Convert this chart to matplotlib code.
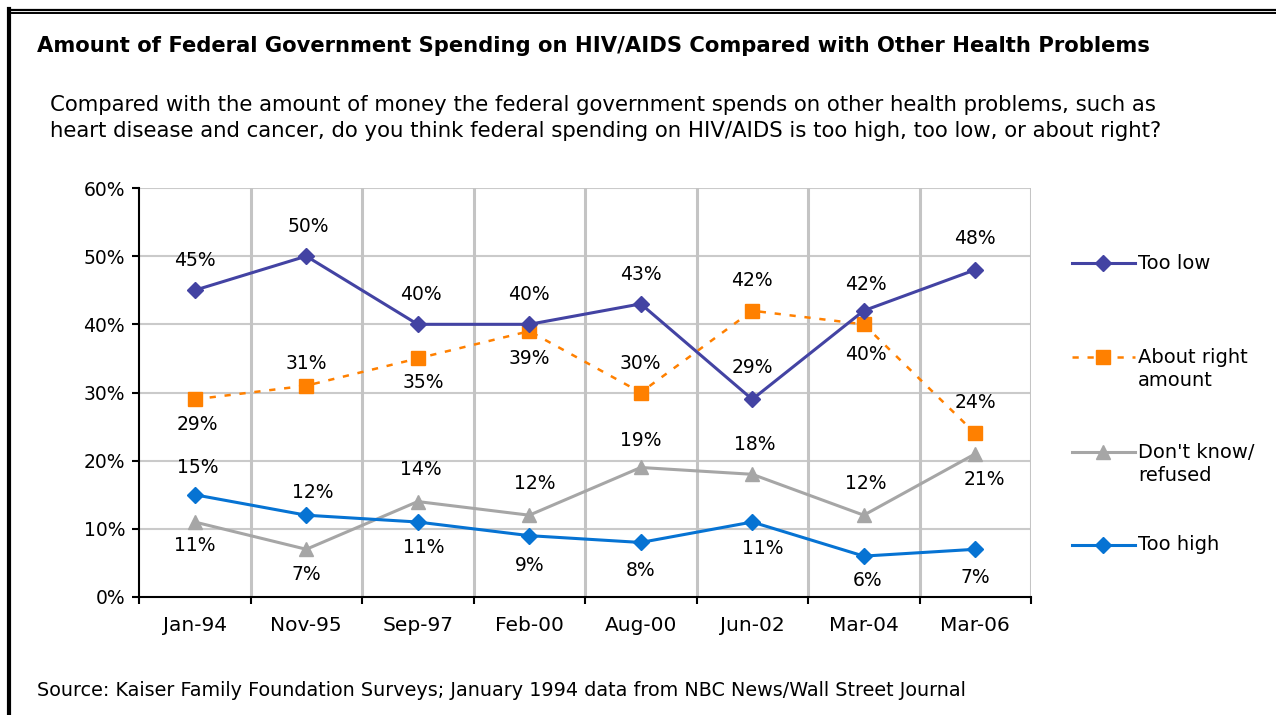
import matplotlib
matplotlib.use('Agg')
import matplotlib.pyplot as plt
from matplotlib.lines import Line2D

# ---------------- data ----------------
categories = ['Jan-94', 'Nov-95', 'Sep-97', 'Feb-00', 'Aug-00', 'Jun-02', 'Mar-04', 'Mar-06']
too_low = [45, 50, 40, 40, 43, 29, 42, 48]
about_right = [29, 31, 35, 39, 30, 42, 40, 24]
dont_know = [11, 7, 14, 12, 19, 18, 12, 21]
too_high = [15, 12, 11, 9, 8, 11, 6, 7]
yticks = [0, 10, 20, 30, 40, 50, 60]
series_names = ['Too low', 'About right\namount', "Don't know/\nrefused", 'Too high']

title = 'Amount of Federal Government Spending on HIV/AIDS Compared with Other Health Problems'
subtitle = ('Compared with the amount of money the federal government spends on other health problems, such as\n'
            'heart disease and cancer, do you think federal spending on HIV/AIDS is too high, too low, or about right?')
source = 'Source: Kaiser Family Foundation Surveys; January 1994 data from NBC News/Wall Street Journal'

# ---------------- layout (label offsets in pixels) ----------------
too_low_dy = [30, 30, 30, 30, 29, 32, 26, 31]
about_right_dy = [-25, 22, -24, -27, 29, 30, -30, 31]
dont_know_dy = [-23, -25, 32, 32, 27, 30, 32, -26]
too_high_dy = [27, 23, -25, -30, -28, -26, -24, -28]
too_low_dx = [0, 2, 3, 0, 0, 0, 2, 0]
about_right_dx = [3, 0, 6, 0, 0, 0, 2, 0]
dont_know_dx = [0, 0, 3, 5, 0, 2, 2, 9]
too_high_dx = [3, 6, 6, 0, 0, 10, 4, 0]

W, H = 1276, 715
C_LOW = '#4343A3'
C_RIGHT = '#FF8000'
C_DK = '#A6A6A6'
C_HIGH = '#0673D3'

plt.rcParams['font.family'] = ['DejaVu Sans']

fig = plt.figure(figsize=(W / 100, H / 100), dpi=100)
fig.patch.set_facecolor('white')

def fx(px):
    return px / W

def fy(py):
    return 1 - py / H

ax = fig.add_axes([fx(139), fy(597), fx(1031) - fx(139), fy(188) - fy(597)])
ax.set_xlim(0, len(categories))
ax.set_ylim(0, 60)

xs = [i + 0.5 for i in range(len(categories))]

# grid
for y in yticks[1:]:
    ax.axhline(y, color='#CACACA', lw=1.5, zorder=0)
for i in range(1, len(categories) + 1):
    ax.axvline(i, color='#C4C4C4', lw=2.2, zorder=0)

for s in ['top', 'right']:
    ax.spines[s].set_visible(False)
ax.spines['left'].set_color('black')
ax.spines['bottom'].set_color('black')
ax.spines['left'].set_linewidth(1.5)
ax.spines['bottom'].set_linewidth(1.5)

lw = 2.2
ax.plot(xs, about_right, color=C_RIGHT, lw=1.8, dashes=(2.5, 3.5), marker='s', ms=10,
        mec=C_RIGHT, mfc=C_RIGHT, zorder=3)
ax.plot(xs, dont_know, color=C_DK, lw=lw, marker='^', ms=10, mec=C_DK, mfc=C_DK, zorder=3)
ax.plot(xs, too_high, color=C_HIGH, lw=lw, marker='D', ms=8.5, mec=C_HIGH, mfc=C_HIGH, zorder=4)
ax.plot(xs, too_low, color=C_LOW, lw=lw, marker='D', ms=8.5, mec=C_LOW, mfc=C_LOW, zorder=5)

LBL_FS = 13.5
for vals, dys, dxs in [(too_low, too_low_dy, too_low_dx),
                       (about_right, about_right_dy, about_right_dx),
                       (dont_know, dont_know_dy, dont_know_dx),
                       (too_high, too_high_dy, too_high_dx)]:
    for x, v, dy, dx in zip(xs, vals, dys, dxs):
        ax.annotate(f'{v}%', (x, v), xytext=(dx, dy), textcoords='offset pixels',
                    ha='center', va='center', fontsize=LBL_FS, color='black', zorder=6)

# ticks
ax.set_yticks(yticks)
ax.set_yticklabels([f'{t}%' for t in yticks], fontsize=13.5)
ax.tick_params(axis='y', direction='out', length=5, width=1.5, pad=5, colors='black')
ax.set_xticks(range(len(categories) + 1))
ax.set_xticklabels([])
ax.tick_params(axis='x', which='major', direction='out', length=5, width=1.5)
ax.set_xticks(xs, minor=True)
ax.set_xticklabels(categories, minor=True, fontsize=14.5)
ax.tick_params(axis='x', which='minor', length=0, pad=14)

# legend (manual)
leg_y = [263, 357, 452, 545]
leg_styles = [
    dict(color=C_LOW, lw=lw, marker='D', ms=8.5, mfc=C_LOW, mec=C_LOW),
    dict(color=C_RIGHT, lw=1.8, dashes=(2.5, 3.5), marker='s', ms=10, mfc=C_RIGHT, mec=C_RIGHT),
    dict(color=C_DK, lw=lw, marker='^', ms=10, mfc=C_DK, mec=C_DK),
    dict(color=C_HIGH, lw=lw, marker='D', ms=8.5, mfc=C_HIGH, mec=C_HIGH),
]
for name, y, st in zip(series_names, leg_y, leg_styles):
    fig.add_artist(Line2D([fx(1072), fx(1135)], [fy(y), fy(y)], transform=fig.transFigure,
                          markevery=[], **st))
    fig.add_artist(Line2D([fx(1103)], [fy(y)], transform=fig.transFigure,
                          **{k: v for k, v in st.items() if k not in ('dashes',)}))
    nlines = name.count('\n') + 1
    fig.text(fx(1138), fy(y + 12 * (nlines - 1)), name, ha='left', va='center', fontsize=14,
             linespacing=1.25)

# texts
fig.text(fx(37), fy(46), title, ha='left', va='center', fontsize=15.2, fontweight='bold')
fig.text(fx(50), fy(118), subtitle, ha='left', va='center', fontsize=15.3, linespacing=1.35)
fig.text(fx(37), fy(690), source, ha='left', va='center', fontsize=13.8)

# border
fig.add_artist(Line2D([fx(9), 1.0], [fy(10), fy(10)], transform=fig.transFigure, color='black', lw=1.6))
fig.add_artist(Line2D([fx(12), 1.0], [fy(13), fy(13)], transform=fig.transFigure, color='black', lw=1.4))
fig.add_artist(Line2D([fx(9), fx(9)], [fy(9), 0], transform=fig.transFigure, color='black', lw=3))

fig.savefig('out.png', dpi=100, facecolor='white')
